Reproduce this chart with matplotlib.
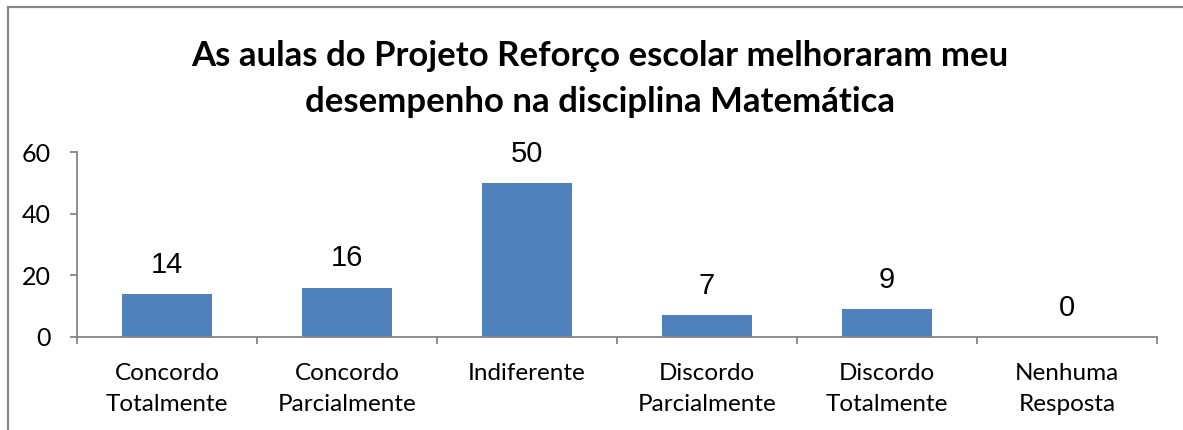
import numpy as np
import matplotlib.pyplot as plt
from matplotlib.patches import Rectangle

# --- dados ---
categorias = ['Concordo\nTotalmente', 'Concordo\nParcialmente', 'Indiferente',
              'Discordo\nParcialmente', 'Discordo\nTotalmente', 'Nenhuma\nResposta']
valores = [14, 16, 50, 7, 9, 0]
y_ticks = [0, 20, 40, 60]
titulo = 'As aulas do Projeto Reforço escolar melhoraram meu\ndesempenho na disciplina Matemática'

COR_BARRA = '#4F81BD'
COR_EIXO = '#868686'
FONTE_CAL = ['Lato', 'DejaVu Sans']
FONTE_ARIAL = ['Liberation Sans', 'DejaVu Sans']

W, H = 1183, 430
fig = plt.figure(figsize=(W / 100, H / 100), dpi=100)

# moldura do gráfico (cortada à direita e embaixo)
fig.patches.append(Rectangle((8 / W, -0.1), 1.2, (H - 7) / H + 0.1,
                             transform=fig.transFigure, fill=False,
                             edgecolor=COR_EIXO, linewidth=1.6))

ax = fig.add_axes([77 / W, (H - 337) / H, 1080 / W, 185 / H])

x = np.arange(len(categorias))
ax.bar(x, valores, width=0.5, color=COR_BARRA, zorder=2)

for xi, v in zip(x, valores):
    ax.annotate(str(v), (xi, v), xytext=(0, 21), textcoords='offset points',
                ha='center', va='center', fontsize=21, family=FONTE_ARIAL)

ax.set_xlim(-0.5, len(categorias) - 0.5)
ax.set_ylim(0, 60)
ax.set_yticks(y_ticks)
ax.set_xticks(x)
ax.set_xticklabels(categorias, family=FONTE_CAL, fontsize=17.5, linespacing=1.55)
ax.set_xticks(np.arange(-0.5, len(categorias)), minor=True)
ax.tick_params(axis='x', which='major', length=0, pad=19)
ax.tick_params(axis='x', which='minor', length=5, width=1.3, color=COR_EIXO)
ax.tick_params(axis='y', length=5, width=1.3, color=COR_EIXO, pad=14, labelsize=18)
for lbl in ax.get_yticklabels():
    lbl.set_family(FONTE_CAL)

for s in ['top', 'right']:
    ax.spines[s].set_visible(False)
for s in ['left', 'bottom']:
    ax.spines[s].set_color(COR_EIXO)
    ax.spines[s].set_linewidth(1.3)

fig.text(0.507, (H - 79) / H, titulo, ha='center', va='center',
         fontsize=25, fontweight='bold', family=FONTE_CAL, linespacing=1.5)

fig.savefig('out.png', dpi=100)
